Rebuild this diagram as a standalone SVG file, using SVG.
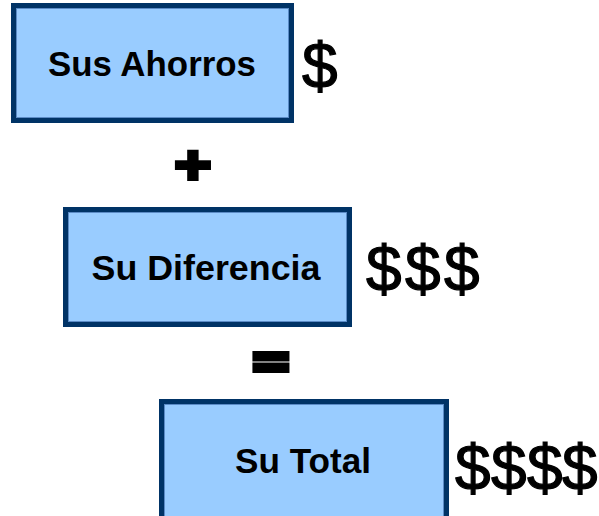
<svg xmlns="http://www.w3.org/2000/svg" width="599" height="516" viewBox="0 0 599 516">
<style>
.box{fill:#99CCFF;stroke:#003366;stroke-width:5}
.inner{fill:none;stroke:#5B8BC6;stroke-width:1}
.lbl{font-family:"Liberation Sans",Arial,sans-serif;font-weight:bold;font-size:35px;fill:#000;text-anchor:middle}
.cur{font-family:"Liberation Sans",Arial,sans-serif;font-size:64px;fill:#000;stroke:#000;stroke-width:1.2}
.op{font-family:"Liberation Sans",Arial,sans-serif;font-weight:bold;fill:#000;stroke:#000;stroke-linejoin:miter;text-anchor:middle}
</style>
<rect width="599" height="516" fill="#fff"/>
<g id="node-ahorros">
<rect class="box" x="13.5" y="5.5" width="278" height="115"/>
<rect class="inner" x="16.5" y="8.5" width="272" height="109"/>
<text class="lbl" x="152" y="76" textLength="208" lengthAdjust="spacingAndGlyphs">Sus Ahorros</text>
<text class="cur" x="302" y="88">$</text>
</g>
<g id="op-plus">
<text class="op" transform="translate(193,183) scale(1,0.86)" x="0" y="0" font-size="63" stroke-width="4.5">+</text>
</g>
<g id="node-diferencia">
<rect class="box" x="65.5" y="209.5" width="284" height="115"/>
<rect class="inner" x="68.5" y="212.5" width="278" height="109"/>
<text class="lbl" x="206" y="280" textLength="229" lengthAdjust="spacingAndGlyphs">Su Diferencia</text>
<text class="cur" x="366 405 444" y="291">$$$</text>
</g>
<g id="op-equals">
<text class="op" transform="translate(271,376.6) scale(1,0.74)" x="0" y="0" font-size="58" stroke-width="8">=</text>
</g>
<g id="node-total">
<rect class="box" x="161.5" y="401.5" width="285" height="118"/>
<rect class="inner" x="164.5" y="404.5" width="279" height="112"/>
<text class="lbl" x="303" y="473" textLength="136" lengthAdjust="spacingAndGlyphs">Su Total</text>
<text class="cur" x="455 491 527 562" y="490">$$$$</text>
</g>
<g id="connectors"/>
</svg>
